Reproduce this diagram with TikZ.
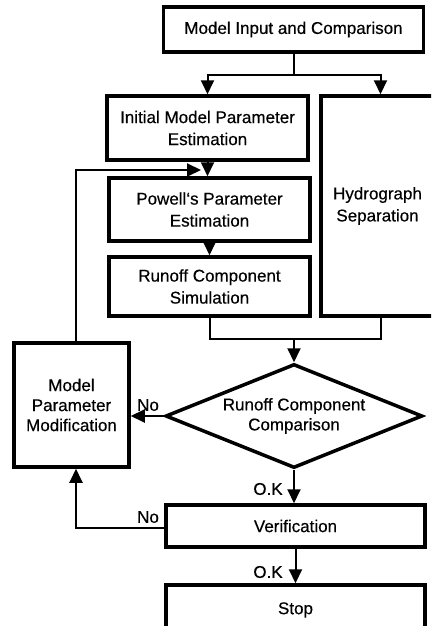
\documentclass[tikz,border=0pt]{standalone}
\usepackage{fontspec}
\setmainfont[FakeBold=0.4]{Liberation Sans}
\usetikzlibrary{arrows.meta,shapes.geometric}
\begin{document}
\begin{tikzpicture}[x=1pt,y=-1pt,
 box/.style={draw,line width=3.5pt,rectangle,inner sep=0pt,align=center,font=\fontsize{17}{22}\selectfont},
 decision/.style={draw,line width=3.5pt,shape=diamond,inner sep=0pt,aspect=2.47,align=center,font=\fontsize{17}{20}\selectfont},
 conn/.style={line width=2pt},
 arr/.style={conn,-{Triangle[length=14pt,width=13pt]}},
 lbl/.style={font=\fontsize{17}{20}\selectfont,inner sep=0pt}]
\useasboundingbox (0,0) rectangle (431,626);
\clip (0,0) rectangle (431,626);
\node[box,minimum width=260pt,minimum height=45pt] (top) at (293.5,29.5) {Model Input and Comparison};
\node[box,minimum width=201pt,minimum height=64pt] (init) at (207.5,128) {Initial Model Parameter\\Estimation};
\node[box,minimum width=113pt,minimum height=220pt] (hydro) at (377.5,206) {Hydrograph\\Separation};
\node[box,minimum width=201pt,minimum height=63pt] (powell) at (209.5,209.5) {Powell‘s Parameter\\Estimation};
\node[box,minimum width=201pt,minimum height=59pt] (rsim) at (209.5,286.5) {Runoff Component\\Simulation};
\node[decision,minimum width=257pt,minimum height=104pt] (dia) at (294,416) {Runoff Component\\Comparison};
\node[box,minimum width=115pt,minimum height=124pt,font=\fontsize{17}{20}\selectfont] (mpm) at (71.5,405) {Model\\Parameter\\Modification};
\node[box,minimum width=259pt,minimum height=42pt] (verif) at (295.5,526) {Verification};
\node[box,minimum width=259pt,minimum height=50pt] (stop) at (295.5,610) {Stop};
\coordinate (split) at (294,75);
\coordinate (fb) at (201,170);
\coordinate (merge) at (294,339);
\draw[conn] (top.south) -- (top.south |- split);
\draw[arr] (top.south |- split) -| (init.north);
\draw[arr] (top.south |- split) -| ([xshift=3pt]hydro.north);
\draw[arr] ([xshift=4.5pt]mpm.north) |- (fb);
\draw[arr] (init.south) -- (init.south |- powell.north);
\draw[arr] (powell.south) -- (powell.south |- rsim.north);
\draw[conn] (rsim.south) |- (merge) -| ([xshift=3pt]hydro.south);
\draw[arr] (merge) -- (dia.north);
\draw[arr] (dia.west) -- (dia.west -| mpm.east);
\node[lbl] (no1) at (148,405) {No};
\draw[arr] (dia.south) -- (dia.south |- verif.north);
\node[lbl] (ok1) at (268,489) {O.K};
\draw[arr] ([yshift=-2pt]verif.west) -| ([xshift=4.5pt]mpm.south);
\node[lbl] (no2) at (148,517) {No};
\draw[arr] (verif.south) -- (verif.south |- stop.north);
\node[lbl] (ok2) at (268,572) {O.K};
\end{tikzpicture}
\end{document}
